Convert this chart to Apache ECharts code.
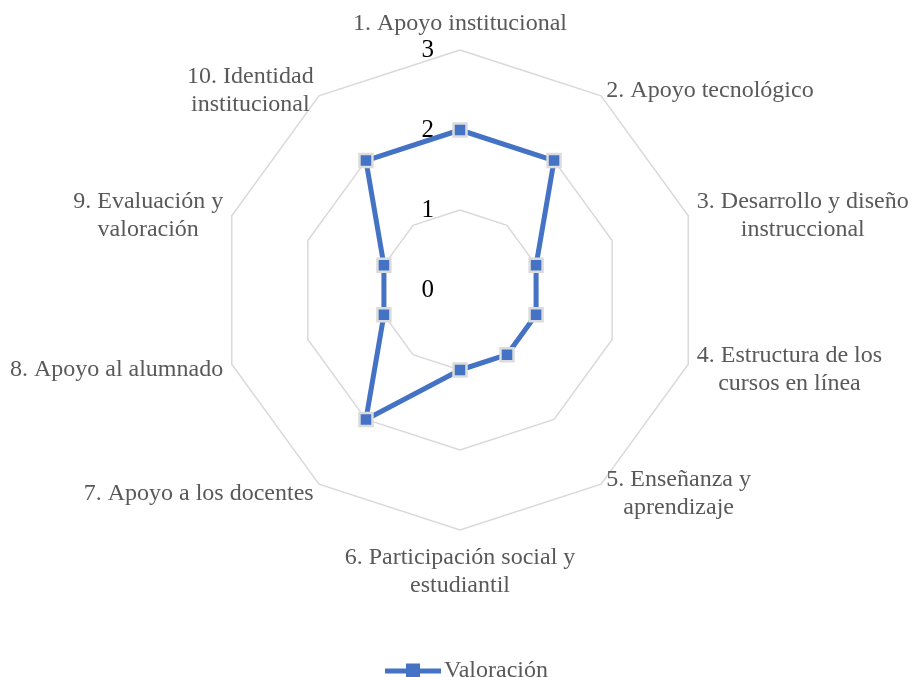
<!DOCTYPE html>
<html>
<head>
<meta charset="utf-8">
<script src="https://cdn.jsdelivr.net/npm/echarts@6/dist/echarts.min.js"></script>
<style>
  html, body { margin: 0; padding: 0; background: #fff; }
  #chart { width: 912px; height: 677px; }
</style>
</head>
<body>
<div id="chart"></div>
<script>
// dimensions, listed clockwise from the top
const dimensions = [
  '1. Apoyo institucional',
  '2. Apoyo tecnológico',
  '3. Desarrollo y diseño\ninstruccional',
  '4. Estructura de los\ncursos en línea',
  '5. Enseñanza y\naprendizaje',
  '6. Participación social y\nestudiantil',
  '7. Apoyo a los docentes',
  '8. Apoyo al alumnado',
  '9. Evaluación y\nvaloración',
  '10. Identidad\ninstitucional'
]
const valoracion = [2, 2, 1, 1, 1, 1, 2, 1, 1, 2]
const scaleMax = 3

const FONT = 'Liberation Serif'
const BLUE = '#4472C4'

// echarts radar runs counter-clockwise, so flip the order after the first axis
const order = [0, ...dimensions.map((d, i) => i).slice(1).reverse()]

const chart = echarts.init(document.getElementById('chart'))

chart.setOption({
  animation: false,
  legend: {
    top: 654,
    left: 380,
    data: [{
      name: 'Valoración',
      icon: 'path://M0,5 H21 V0 H35 V5 H56 V10 H35 V15 H21 V10 H0 Z',
      itemStyle: { borderWidth: 0 }
    }],
    itemWidth: 56,
    itemHeight: 15,
    textStyle: { fontFamily: FONT, fontSize: 24, color: '#595959', padding: [0, 0, 0, -2] }
  },
  radar: {
    center: [460, 290],
    radius: 240,
    startAngle: 90,
    splitNumber: 3,
    shape: 'polygon',
    nameGap: 9,
    axisName: {
      color: '#595959',
      fontFamily: FONT,
      fontSize: 24,
      lineHeight: 28,
      padding: [5, 0, 0, 0],
      formatter: name => name.split('\n').map(l => '{c|' + l + '}').join('\n'),
      rich: {
        c: { align: 'center', fontFamily: FONT, fontSize: 24, lineHeight: 28, color: '#595959' }
      }
    },
    axisLine: { show: false },
    axisTick: { show: false },
    axisLabel: { show: false },
    splitLine: { lineStyle: { color: '#d9d9d9', width: 1.5 } },
    splitArea: { show: false },
    indicator: order.map((i, k) => {
      const ind = { name: dimensions[i], min: 0, max: scaleMax }
      if (k === 0) {
        ind.axisLabel = {
          show: true,
          color: '#000',
          fontFamily: FONT,
          fontSize: 25,
          margin: 26
        }
      }
      return ind
    })
  },
  series: [{
    type: 'radar',
    name: 'Valoración',
    symbol: 'rect',
    symbolSize: 13,
    lineStyle: { color: BLUE, width: 5 },
    itemStyle: { color: BLUE, borderColor: '#dcdcdc', borderWidth: 2.5 },
    data: [{ name: 'Valoración', value: order.map(i => valoracion[i]) }]
  }]
})
</script>
</body>
</html>
